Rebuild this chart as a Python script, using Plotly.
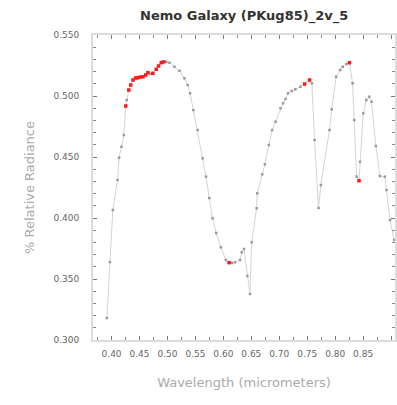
import plotly.graph_objects as go

title_text = "Nemo Galaxy (PKug85)_2v_5"
x_title = "Wavelength (micrometers)"
y_title = "% Relative Radiance"

wavelength = [0.3916, 0.3970, 0.4023, 0.4107, 0.4135, 0.4178, 0.4219, 0.4254, 0.4272, 0.4308,
              0.4343, 0.4384, 0.4432, 0.4473, 0.4521, 0.4562, 0.4610, 0.4651, 0.4699, 0.4739,
              0.4800, 0.4841, 0.4889, 0.4930, 0.4978, 0.5036, 0.5125, 0.5214, 0.5303, 0.5362,
              0.5404, 0.5463, 0.5539, 0.5628, 0.5689, 0.5747, 0.5806, 0.5872, 0.5955, 0.6044,
              0.6103, 0.6156, 0.6209, 0.6298, 0.6329, 0.6369, 0.6428, 0.6476, 0.6506, 0.6595,
              0.6606, 0.6695, 0.6743, 0.6814, 0.6872, 0.6933, 0.7022, 0.7068, 0.7111, 0.7157,
              0.7223, 0.7288, 0.7377, 0.7454, 0.7543, 0.7583, 0.7631, 0.7702, 0.7743, 0.7898,
              0.7939, 0.8017, 0.8088, 0.8135, 0.8200, 0.8254, 0.8312, 0.8342, 0.8383, 0.8426,
              0.8444, 0.8502, 0.8556, 0.8609, 0.8650, 0.8728, 0.8799, 0.8888, 0.8917, 0.8982,
              0.9054]
radiance = [0.3180, 0.3639, 0.4066, 0.4311, 0.4494, 0.4584, 0.4680, 0.4918, 0.4967, 0.5049,
            0.5090, 0.5131, 0.5148, 0.5150, 0.5156, 0.5158, 0.5172, 0.5191, 0.5180, 0.5186,
            0.5219, 0.5246, 0.5273, 0.5279, 0.5281, 0.5273, 0.5240, 0.5207, 0.5145, 0.5090,
            0.5022, 0.4885, 0.4721, 0.4489, 0.4339, 0.4164, 0.3998, 0.3877, 0.3760, 0.3656,
            0.3634, 0.3631, 0.3637, 0.3656, 0.3719, 0.3746, 0.3525, 0.3377, 0.3801, 0.4080,
            0.4202, 0.4358, 0.4440, 0.4598, 0.4721, 0.4789, 0.4899, 0.4940, 0.4975, 0.5022,
            0.5041, 0.5055, 0.5076, 0.5098, 0.5131, 0.5104, 0.4639, 0.4082, 0.4270, 0.4721,
            0.4891, 0.5158, 0.5213, 0.5240, 0.5262, 0.5273, 0.5104, 0.4803, 0.4339, 0.4306,
            0.4461, 0.4858, 0.4967, 0.4994, 0.4953, 0.4590, 0.4344, 0.4339, 0.4230, 0.3984,
            0.3820]
flagged = [0, 0, 0, 0, 0, 0, 0, 1, 0, 1,
           1, 1, 1, 1, 1, 1, 1, 1, 0, 1,
           1, 1, 1, 1, 0, 0, 0, 0, 0, 0,
           0, 0, 0, 0, 0, 0, 0, 0, 0, 0,
           1, 0, 0, 0, 0, 0, 0, 0, 0, 0,
           0, 0, 0, 0, 0, 0, 0, 0, 0, 0,
           0, 0, 0, 1, 1, 0, 0, 0, 0, 0,
           0, 0, 0, 0, 0, 1, 0, 0, 0, 1,
           0, 0, 0, 0, 0, 0, 0, 0, 0, 0,
           0]

red_x = [w for w, f in zip(wavelength, flagged) if f]
red_y = [r for r, f in zip(radiance, flagged) if f]

fig = go.Figure()
fig.add_trace(go.Scatter(
    x=wavelength, y=radiance, mode="lines+markers",
    line=dict(color="#d4d4d4", width=1),
    marker=dict(symbol="square", size=2.5, color="#999999"),
    showlegend=False, hoverinfo="skip"))
fig.add_trace(go.Scatter(
    x=red_x, y=red_y, mode="markers",
    marker=dict(symbol="square", size=3.5, color="#ff1a1a"),
    showlegend=False, hoverinfo="skip"))

axis_common = dict(
    showgrid=False, zeroline=False, showline=True, linecolor="#dcdcdc", linewidth=2,
    mirror="ticks", ticks="inside", ticklen=4, tickcolor="#777", tickwidth=1,
    tickfont=dict(family="DejaVu Sans", size=9, color="#666"),
)
fig.update_xaxes(
    range=[0.3668, 0.907], tick0=0.40, dtick=0.05, tickformat=".2f",
    minor=dict(dtick=0.025, ticks="inside", ticklen=3, tickcolor="#888"),
    ticklabelstandoff=4,
    title=dict(text=x_title, font=dict(family="DejaVu Sans", size=13, color="#aaaaaa"), standoff=20),
    **axis_common)
fig.update_yaxes(
    range=[0.30, 0.55], tick0=0.30, dtick=0.05, tickformat=".3f",
    minor=dict(dtick=0.01, ticks="inside", ticklen=3, tickcolor="#888"),
    ticklabelstandoff=10,
    title=dict(text=y_title, font=dict(family="DejaVu Sans", size=13, color="#aaaaaa"), standoff=16),
    **axis_common)

fig.update_layout(
    width=397, height=405,
    margin=dict(l=93, r=0, t=35, b=65),
    paper_bgcolor="white", plot_bgcolor="white",
    title=dict(text="<b>" + title_text + "</b>", x=0.615, xanchor="center", y=0.963, yanchor="middle",
               font=dict(family="DejaVu Sans", size=13, color="#333")),
)

fig.write_html("out.html")
